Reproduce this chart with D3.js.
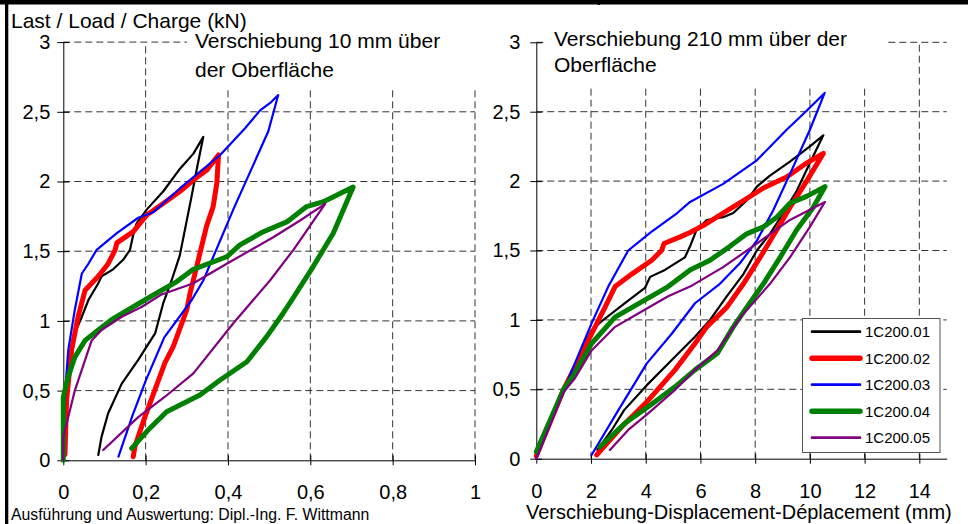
<!DOCTYPE html>
<html>
<head>
<meta charset="utf-8">
<script src="https://cdn.jsdelivr.net/npm/d3@7/dist/d3.min.js"></script>
<style>
body { margin: 0; background: #fff; }
svg { display: block; font-family: "Liberation Sans", Arial, sans-serif; }
</style>
</head>
<body>
<svg id="chart" width="968" height="524"></svg>
<script>
// Series names and styles
var names = ["1C200.01", "1C200.02", "1C200.03", "1C200.04", "1C200.05"];
var colors = ["#000000", "#ff0000", "#0000ff", "#008000", "#800080"];
var widths = [2.2, 5, 2.2, 5, 2.2];

// Ticks
var yTicks = [0, 0.5, 1, 1.5, 2, 2.5, 3];
var leftXTicks = [0, 0.2, 0.4, 0.6, 0.8, 1];
var rightXTicks = [0, 2, 4, 6, 8, 10, 12, 14];

// Displacement 10 mm above the surface: [mm, kN]
var near01 = [[0,0],[0.004,0.25],[0.012,0.55],[0.028,0.91],[0.045,1.03],[0.061,1.15],[0.085,1.27],[0.093,1.32],[0.121,1.37],[0.146,1.44],[0.162,1.51],[0.17,1.62],[0.178,1.70],[0.203,1.80],[0.243,1.93],[0.283,2.09],[0.316,2.20],[0.34,2.32],[0.325,2.1],[0.31,1.87],[0.283,1.47],[0.263,1.29],[0.243,1.13],[0.223,0.91],[0.182,0.72],[0.142,0.55],[0.109,0.337],[0.093,0.17],[0.085,0.038]];
var near02 = [[0.004,0.04],[0.008,0.43],[0.02,0.79],[0.036,1.03],[0.053,1.22],[0.085,1.32],[0.109,1.41],[0.126,1.51],[0.13,1.56],[0.17,1.64],[0.203,1.76],[0.251,1.86],[0.288,1.94],[0.316,2.01],[0.348,2.08],[0.377,2.19],[0.373,1.99],[0.364,1.82],[0.348,1.68],[0.324,1.39],[0.308,1.2],[0.30,1.08],[0.267,0.815],[0.247,0.70],[0.198,0.31],[0.174,0.1],[0.17,0.026]];
var near03 = [[0,0],[0.002,0.3],[0.006,0.55],[0.012,0.79],[0.028,1.08],[0.045,1.34],[0.061,1.41],[0.081,1.51],[0.13,1.63],[0.182,1.74],[0.219,1.78],[0.283,1.95],[0.381,2.19],[0.441,2.38],[0.478,2.51],[0.505,2.57],[0.522,2.62],[0.498,2.36],[0.413,1.80],[0.34,1.29],[0.312,1.15],[0.245,0.88],[0.2,0.57],[0.168,0.32],[0.134,0.026]];
var near04 = [[0,0],[0,0.456],[0.012,0.6],[0.028,0.74],[0.053,0.86],[0.085,0.935],[0.118,1.01],[0.158,1.08],[0.198,1.15],[0.239,1.22],[0.275,1.28],[0.316,1.37],[0.397,1.46],[0.429,1.545],[0.486,1.64],[0.543,1.71],[0.591,1.82],[0.632,1.855],[0.704,1.96],[0.656,1.63],[0.607,1.39],[0.555,1.15],[0.534,1.055],[0.494,0.887],[0.446,0.707],[0.381,0.576],[0.332,0.468],[0.251,0.349],[0.206,0.217],[0.166,0.086]];
var near05 = [[0,0],[0,0.17],[0.012,0.31],[0.028,0.5],[0.053,0.72],[0.069,0.86],[0.093,0.935],[0.142,1.03],[0.19,1.10],[0.239,1.19],[0.316,1.27],[0.397,1.41],[0.51,1.60],[0.575,1.72],[0.636,1.84],[0.559,1.51],[0.502,1.29],[0.413,0.983],[0.316,0.624],[0.247,0.456],[0.182,0.31],[0.097,0.074]];

// Displacement 210 mm above the surface: [mm, kN]
var far01 = [[0,0],[1.0,0.5],[2.02,0.927],[2.51,1.01],[3.24,1.12],[3.97,1.23],[4.16,1.31],[4.7,1.36],[5.43,1.45],[5.62,1.53],[5.86,1.65],[6.23,1.72],[6.83,1.74],[7.2,1.77],[7.69,1.86],[8.06,1.96],[8.54,2.04],[9.27,2.14],[10.0,2.25],[10.49,2.33],[10.0,2.13],[9.52,1.93],[9.03,1.77],[8.54,1.62],[8.06,1.50],[7.57,1.33],[6.96,1.17],[6.35,1.0],[5.8,0.878],[5.07,0.734],[4.04,0.53],[3.21,0.35],[2.76,0.207],[2.23,0.063]];
var far02 = [[0,0.02],[1.0,0.5],[2.02,0.90],[2.51,1.09],[2.88,1.24],[3.49,1.33],[4.22,1.43],[4.58,1.50],[4.67,1.55],[5.28,1.60],[5.62,1.63],[6.1,1.68],[6.83,1.77],[7.57,1.86],[8.3,1.95],[9.15,2.03],[9.88,2.13],[10.49,2.2],[9.88,2.0],[9.27,1.81],[8.79,1.65],[8.18,1.45],[7.57,1.26],[6.96,1.09],[6.23,0.95],[5.8,0.83],[5.07,0.64],[4.09,0.42],[3.12,0.23],[2.21,0.027]];
var far03 = [[0,0],[1.01,0.495],[1.41,0.687],[2.02,0.975],[2.63,1.24],[3.36,1.50],[4.18,1.63],[5.15,1.77],[5.62,1.85],[6.83,1.98],[8.06,2.15],[9.15,2.37],[9.9,2.51],[10.54,2.635],[10.0,2.37],[9.27,2.05],[8.66,1.79],[8.06,1.57],[7.45,1.41],[6.71,1.26],[5.8,1.12],[4.95,0.90],[4.04,0.687],[3.0,0.35],[2.02,0.027]];
var far04 = [[0,0.05],[1.0,0.5],[1.41,0.615],[2.02,0.83],[2.88,1.02],[3.85,1.13],[4.82,1.24],[5.62,1.36],[6.35,1.43],[7.08,1.53],[7.69,1.62],[8.3,1.67],[8.79,1.74],[9.27,1.84],[9.88,1.89],[10.55,1.96],[10.12,1.81],[9.52,1.65],[8.91,1.45],[8.30,1.26],[7.69,1.09],[7.2,0.95],[6.62,0.76],[5.8,0.64],[5.07,0.518],[4.09,0.374],[3.24,0.255],[2.33,0.086]];
var far05 = [[0,0],[1.0,0.48],[1.41,0.58],[2.02,0.78],[2.88,0.95],[3.85,1.06],[4.82,1.17],[5.62,1.24],[6.83,1.38],[8.06,1.55],[9.27,1.72],[10.55,1.85],[10.0,1.67],[9.27,1.45],[8.54,1.26],[7.47,1.02],[6.62,0.78],[5.8,0.64],[5.07,0.495],[4.09,0.327],[3.36,0.207],[2.69,0.063]];

var tick_font = 20;
var text_font = 21;

var svg = d3.select("#chart");

/**
 * Formats a number with a decimal comma.
 */
function comma(d)
{
    return String(d).replace(".", ",");
}

/**
 * Builds one of the two load-displacement plots.
 *
 * @param p  plot settings: ranges, domains, ticks, series and title box.
 */
function buildPlot(p)
{
    var x = d3.scaleLinear().domain(p.xDomain).range(p.xRange);
    var y = d3.scaleLinear().domain([0, 3]).range(p.yRange);
    var g = svg.append("g");

    // Dashed grid
    g.append("g").selectAll("line.h")
        .data(yTicks.slice(1))
        .enter().append("line")
        .attr("x1", x.range()[0]).attr("x2", x(p.gridRight))
        .attr("y1", d => y(d)).attr("y2", d => y(d))
        .attr("stroke", "#333").attr("stroke-dasharray", "7,4");
    g.append("g").selectAll("line.v")
        .data(p.xGrid)
        .enter().append("line")
        .attr("x1", d => x(d)).attr("x2", d => x(d))
        .attr("y1", y(0)).attr("y2", y(3))
        .attr("stroke", "#333").attr("stroke-dasharray", "7,4");

    // White title box over the grid
    g.append("rect")
        .attr("x", p.box[0]).attr("y", p.box[1])
        .attr("width", p.box[2]).attr("height", p.box[3])
        .attr("fill", "#fff");
    p.title.forEach(function(t) {
        g.append("text")
            .attr("x", t[0]).attr("y", t[1])
            .attr("font-size", text_font)
            .text(t[2]);
    });

    // Axes
    var ya = g.append("g")
        .attr("transform", "translate(" + x.range()[0] + ",0)")
        .call(d3.axisLeft(y).tickValues(yTicks).tickSize(6).tickSizeOuter(0)
            .tickPadding(p.yPad).tickFormat(comma));
    ya.selectAll(".tick line").attr("x1", 6);
    var xa = g.append("g")
        .attr("transform", "translate(0," + y(0) + ")")
        .call(d3.axisBottom(x).tickValues(p.xTicks).tickSize(5).tickSizeOuter(0)
            .tickPadding(20).tickFormat(comma));
    xa.selectAll(".tick line").attr("y1", -5);
    [ya, xa].forEach(function(a) {
        a.attr("font-size", tick_font).attr("font-family", null);
        a.selectAll("path, line").attr("stroke", "#000");
        a.selectAll("text").attr("fill", "#000");
    });

    // Curves
    var line = d3.line().x(d => x(d[0])).y(d => y(d[1]));
    g.append("g").selectAll("path")
        .data(p.series)
        .enter().append("path")
        .attr("d", line)
        .attr("fill", "none")
        .attr("stroke", (d, i) => colors[i])
        .attr("stroke-width", (d, i) => widths[i])
        .attr("stroke-linejoin", "round")
        .attr("stroke-linecap", "round");
}

buildPlot({
    xDomain: [0, 1], xRange: [63.3, 475], yRange: [460.3, 42.1],
    xTicks: leftXTicks, xGrid: leftXTicks.slice(1), gridRight: 1, yPad: 7,
    box: [187, 22, 292, 67],
    title: [[195, 48, "Verschiebung 10 mm über"], [195, 77, "der Oberfläche"]],
    series: [near01, near02, near03, near04, near05]
});

buildPlot({
    xDomain: [0, 15], xRange: [536.3, 946.7], yRange: [458.7, 42.3],
    xTicks: rightXTicks, xGrid: rightXTicks.slice(1), gridRight: 15, yPad: 10,
    box: [547, 18, 340, 69],
    title: [[554, 46, "Verschiebung 210 mm über der"], [554, 72, "Oberfläche"]],
    series: [far01, far02, far03, far04, far05]
});

// Legend
var legend = svg.append("g");
legend.append("rect")
    .attr("x", 802.5).attr("y", 318.5).attr("width", 137.5).attr("height", 134)
    .attr("fill", "#fff").attr("stroke", "#555");
var rows = legend.selectAll(".row")
    .data(names)
    .enter().append("g")
    .attr("class", "row")
    .attr("transform", (d, i) => "translate(0," + (331.7 + i * 26.5) + ")");
rows.append("line")
    .attr("x1", 812).attr("x2", 860)
    .attr("stroke", (d, i) => colors[i])
    .attr("stroke-width", (d, i) => widths[i] + 0.5)
    .attr("stroke-linecap", "round");
rows.append("text")
    .attr("x", 865).attr("dy", "0.36em")
    .attr("font-size", 15)
    .text(d => d);

// Labels
svg.append("text").attr("x", 11).attr("y", 28).attr("font-size", 21)
    .text("Last / Load / Charge (kN)");
svg.append("text").attr("x", 11).attr("y", 520).attr("font-size", 15.8)
    .text("Ausführung und Auswertung: Dipl.-Ing. F. Wittmann");
svg.append("text").attr("x", 526).attr("y", 519).attr("font-size", 20)
    .text("Verschiebung-Displacement-Déplacement (mm)");

// Page frame
svg.append("rect").attr("x", 0).attr("y", 0).attr("width", 968).attr("height", 4.5).attr("fill", "#000");
svg.append("rect").attr("x", 5).attr("y", 0).attr("width", 3.3).attr("height", 524).attr("fill", "#000");
svg.append("rect").attr("x", 597.5).attr("y", 0).attr("width", 2.5).attr("height", 5).attr("fill", "#000");
</script>
</body>
</html>
